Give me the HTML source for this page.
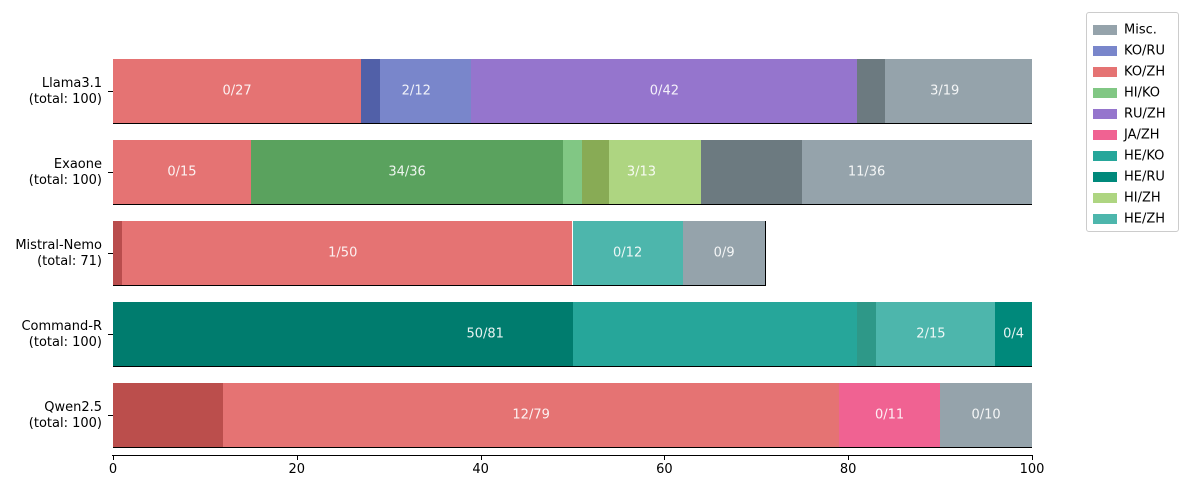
<!DOCTYPE html><html><head><style>
body{margin:0;background:#fff;font-family:"DejaVu Sans","Liberation Sans",sans-serif;}
#c{position:relative;width:1189px;height:490px;overflow:hidden;}
.s{position:absolute;}
.t{position:absolute;color:#fff;font-size:13px;transform:translate(-50%,-50%);white-space:nowrap;opacity:.9}
.yl{position:absolute;right:1087px;text-align:right;font-size:13px;line-height:16px;color:#000;transform:translateY(-50%)}
.tk{position:absolute;background:#000}
.xl{position:absolute;font-size:13px;transform:translateX(-50%);top:462px}
.lg{position:absolute;left:1086px;top:12px;width:91px;height:218px;border:1px solid #ccc;border-radius:3px;background:#fff}
.li{position:absolute;left:6px;width:24px;height:10px}
.lt{position:absolute;left:37px;font-size:13px;transform:translateY(-50%)}
</style></head><body><div id="c"></div>
<script>
const c=document.getElementById('c');
const X=v=>113+v*9.19;
const rows=[
{y:59,name:"Llama3.1",tot:100,segs:[[0,27,'#e57373'],[27,29,'#5160a8'],[29,39,'#7986cb'],[39,81,'#9575cd'],[81,84,'#6c7a80'],[84,100,'#95a3ab']],labels:[[13.5,'0/27'],[33,'2/12'],[60,'0/42'],[90.5,'3/19']]},
{y:140,name:"Exaone",tot:100,segs:[[0,15,'#e57373'],[15,49,'#5aa25e'],[49,51,'#81c784'],[51,54,'#88ab55'],[54,64,'#aed581'],[64,75,'#6c7a80'],[75,100,'#95a3ab']],labels:[[7.5,'0/15'],[32,'34/36'],[57.5,'3/13'],[82,'11/36']]},
{y:221,name:"Mistral-Nemo",tot:71,segs:[[0,1,'#b94d4d'],[1,50,'#e57373'],[50,62,'#4db6ac'],[62,71,'#95a3ab']],labels:[[25,'1/50'],[56,'0/12'],[66.5,'0/9']]},
{y:302,name:"Command-R",tot:100,segs:[[0,50,'#007c6e'],[50,81,'#26a69a'],[81,83,'#2e9888'],[83,96,'#4db6ac'],[96,100,'#00897b']],labels:[[40.5,'50/81'],[89,'2/15'],[98,'0/4']]},
{y:383,name:"Qwen2.5",tot:100,segs:[[0,12,'#bb4e4c'],[12,79,'#e57373'],[79,90,'#f06292'],[90,100,'#95a3ab']],labels:[[45.5,'12/79'],[84.5,'0/11'],[95,'0/10']]}];
let h='';
for(const r of rows){
 for(const s of r.segs)h+=`<div class="s" style="left:${X(s[0])}px;width:${X(s[1])-X(s[0])}px;top:${r.y}px;height:65px;background:${s[2]}"></div>`;
 h+=`<div class="tk" style="left:${X(0)}px;width:${X(r.tot)-X(0)}px;top:${r.y+64}px;height:1px"></div>`;
 if(r.tot<100)h+=`<div class="tk" style="left:${X(r.tot)}px;width:1px;top:${r.y}px;height:65px"></div>`;
 for(const l of r.labels)h+=`<div class="t" style="left:${X(l[0])}px;top:${r.y+32}px">${l[1]}</div>`;
 h+=`<div class="yl" style="top:${r.y+33}px">${r.name}<br>(total: ${r.tot})</div>`;
 h+=`<div class="tk" style="left:108px;width:5px;top:${r.y+32}px;height:1px"></div>`;
}
h+=`<div class="tk" style="left:112px;width:921px;top:455px;height:1px"></div>`;
for(let v=0;v<=100;v+=20){h+=`<div class="tk" style="left:${X(v)}px;width:1px;top:455px;height:5px"></div><div class="xl" style="left:${X(v)}px">${v}</div>`;}
const lg=[['Misc.','#95a3ab'],['KO/RU','#7986cb'],['KO/ZH','#e57373'],['HI/KO','#81c784'],['RU/ZH','#9575cd'],['JA/ZH','#f06292'],['HE/KO','#26a69a'],['HE/RU','#00897b'],['HI/ZH','#aed581'],['HE/ZH','#4db6ac']];
h+='<div class="lg">';
lg.forEach((e,i)=>{const y=17+i*21;h+=`<div class="li" style="top:${y-5}px;background:${e[1]}"></div><div class="lt" style="top:${y}px">${e[0]}</div>`;});
h+='</div>';
c.innerHTML=h;
</script></body></html>
